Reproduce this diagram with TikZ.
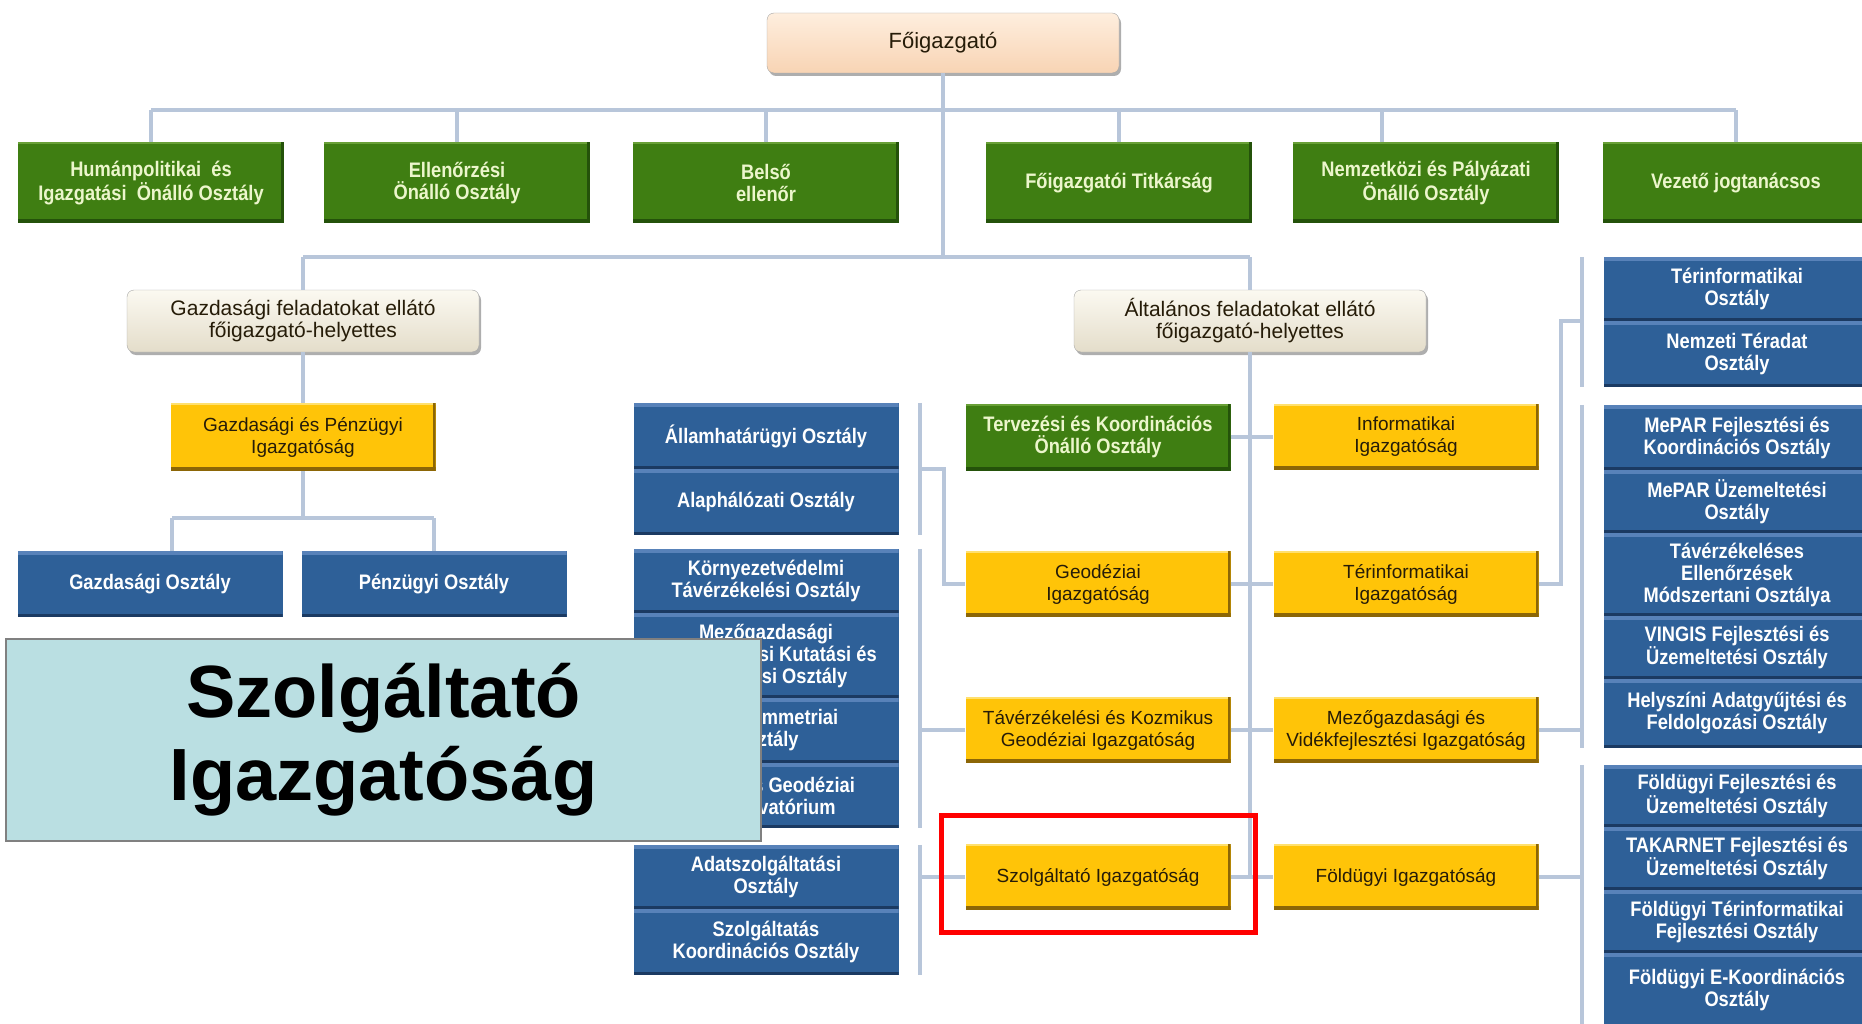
\documentclass[tikz,border=0pt]{standalone}
\usepackage{fontspec}
\setmainfont{Liberation Sans}
\newfontfamily\NarrowSans[FakeStretch=0.87]{Liberation Sans}
\usepackage{tikz}
\usetikzlibrary{shadows}
\usepackage{xcolor}
\definecolor{ColBlue}{RGB}{46,96,152}
\definecolor{ColBlueHi}{RGB}{88,130,185}
\definecolor{ColBlueLo}{RGB}{27,58,98}
\definecolor{ColGreen}{RGB}{63,126,18}
\definecolor{ColGreenHi}{RGB}{105,160,55}
\definecolor{ColGreenLo}{RGB}{36,82,10}
\definecolor{ColGreenText}{RGB}{236,246,204}
\definecolor{ColYellow}{RGB}{255,196,8}
\definecolor{ColYellowHi}{RGB}{255,224,110}
\definecolor{ColYellowLo}{RGB}{140,102,6}
\definecolor{ColText}{RGB}{38,28,8}
\definecolor{ColBeigeHi}{RGB}{251,249,241}
\definecolor{ColBeige}{RGB}{228,221,202}
\definecolor{ColPeachHi}{RGB}{254,238,222}
\definecolor{ColPeach}{RGB}{248,212,180}
\definecolor{ColLine}{RGB}{184,198,218}
\definecolor{ColTitle}{RGB}{186,223,226}
\tikzstyle{BoxBlue}=[rectangle,fill=ColBlue,text=white,minimum width=265,minimum height=66,inner sep=2pt,
align=center,font=\NarrowSans\bfseries\fontsize{21}{22}\selectfont,
path picture={\fill[ColBlueHi](path picture bounding box.north west)rectangle([yshift=-4pt]path picture bounding box.north east);
\fill[ColBlueLo](path picture bounding box.south west)rectangle([yshift=3pt]path picture bounding box.south east);}]
\tikzstyle{BoxGreen}=[rectangle,fill=ColGreen,text=ColGreenText,minimum width=266,minimum height=81,inner sep=2pt,
align=center,font=\NarrowSans\bfseries\fontsize{21}{22}\selectfont,
path picture={\fill[ColGreenHi](path picture bounding box.north west)rectangle([yshift=-2pt]path picture bounding box.north east);
\fill[ColGreenLo](path picture bounding box.south west)rectangle([yshift=4pt]path picture bounding box.south east);
\fill[ColGreenLo](path picture bounding box.north east)rectangle([xshift=-3pt]path picture bounding box.south east);}]
\tikzstyle{BoxYellow}=[rectangle,fill=ColYellow,text=ColText,minimum width=265,minimum height=66,inner sep=2pt,
align=center,font=\fontsize{19}{22}\selectfont,
path picture={\fill[ColYellowHi](path picture bounding box.north west)rectangle([yshift=-2pt]path picture bounding box.north east);
\fill[ColYellowLo](path picture bounding box.south west)rectangle([yshift=4pt]path picture bounding box.south east);
\fill[ColYellowLo](path picture bounding box.north east)rectangle([xshift=-3pt]path picture bounding box.south east);}]
\tikzstyle{BoxDeputy}=[rectangle,rounded corners=7pt,top color=ColBeigeHi,bottom color=ColBeige,draw=black!35,
minimum width=352,minimum height=62,align=center,text=ColText,font=\fontsize{21}{22}\selectfont,
drop shadow={shadow xshift=2pt,shadow yshift=-3pt,fill=black!70,opacity=.45}]
\tikzstyle{BoxChief}=[BoxDeputy,top color=ColPeachHi,bottom color=ColPeach,minimum width=352,minimum height=60,
font=\fontsize{22}{24}\selectfont]
\tikzstyle{BoxTitle}=[rectangle,fill=ColTitle,draw=black!50,line width=2pt,minimum width=755,minimum height=202,
align=center,font=\bfseries\fontsize{74}{83}\selectfont]
\tikzstyle{FrameRed}=[rectangle,draw=red,line width=5pt,minimum width=314,minimum height=117]
\tikzstyle{EdgeOrg}=[ColLine,line width=4pt]

\begin{document}
\begin{tikzpicture}[x=1pt,y=-1pt]
        \useasboundingbox(0,0)rectangle(1862,1024);
        \clip(0,0)rectangle(1862,1024);
        \coordinate(barA)at(0,110);
        \coordinate(barB)at(0,257);
        \coordinate(barC)at(0,518);
        \coordinate(brL)at(920,0);
        \coordinate(brR)at(1582,0);
        % top
        \node[BoxChief](fo)at(943,43){Főigazgató};
        \node[BoxGreen](human)at(151,183){Humánpolitikai\ \ és\\Igazgatási\ \ Önálló Osztály};
        \node[BoxGreen](ellen)at(457,183){Ellenőrzési\\Önálló Osztály};
        \node[BoxGreen](belso)at(766,183){Belső\\ellenőr};
        \node[BoxGreen](titk)at(1119,183){Főigazgatói Titkárság};
        \node[BoxGreen](nemz)at(1426,183){Nemzetközi és Pályázati\\Önálló Osztály};
        \node[BoxGreen](jog)at(1736,183){Vezető jogtanácsos};
        \node[BoxDeputy](gazh)at(303,321){Gazdasági feladatokat ellátó\\főigazgató-helyettes};
        \node[BoxDeputy](alth)at(1250,321){Általános feladatokat ellátó\\főigazgató-helyettes};
        % gazdasagi ag
        \node[BoxYellow,minimum height=68](gpig)at(303,437){Gazdasági és Pénzügyi\\Igazgatóság};
        \node[BoxBlue](gosz)at(150,584){Gazdasági Osztály};
        \node[BoxBlue](posz)at(434,584){Pénzügyi Osztály};
        % kek oszlop kozepen
        \node[BoxBlue](allam)at(766,436){Államhatárügyi Osztály};
        \node[BoxBlue](alap)at(766,502){Alaphálózati Osztály};
        \node[BoxBlue,minimum height=64](korny)at(766,581){Környezetvédelmi\\Távérzékelési Osztály};
        \node[BoxBlue,minimum height=85](mezo)at(766,655.5){Mezőgazdasági\\Távérzékelési Kutatási és\\Fejlesztési Osztály};
        \node[BoxBlue,minimum height=65](foto)at(766,730.5){Fotogrammetriai\\Osztály};
        \node[BoxBlue,minimum height=65](kgo)at(766,795.5){Kozmikus Geodéziai\\Obszervatórium};
        \node[BoxBlue,minimum height=64](adat)at(766,877){Adatszolgáltatási\\Osztály};
        \node[BoxBlue,minimum height=66](szkoo)at(766,942){Szolgáltatás\\Koordinációs Osztály};
        % igazgatosagok
        \node[BoxGreen,minimum width=265,minimum height=67](terv)at(1098,437){Tervezési és Koordinációs\\Önálló Osztály};
        \node[BoxYellow](info)at(1406,437){Informatikai\\Igazgatóság};
        \node[BoxYellow](geod)at(1098,584){Geodéziai\\Igazgatóság};
        \node[BoxYellow](terig)at(1406,584){Térinformatikai\\Igazgatóság};
        \node[BoxYellow](tavig)at(1098,730){Távérzékelési és Kozmikus\\Geodéziai Igazgatóság};
        \node[BoxYellow](mezig)at(1406,730){Mezőgazdasági és\\Vidékfejlesztési Igazgatóság};
        \node[BoxYellow](szolg)at(1098,877){Szolgáltató Igazgatóság};
        \node[BoxYellow](foldig)at(1406,877){Földügyi Igazgatóság};
        % kek oszlop jobbra
        \node[BoxBlue,minimum width=266,minimum height=64](tero)at(1737,289){Térinformatikai\\Osztály};
        \node[BoxBlue,minimum width=266](nter)at(1737,354){Nemzeti Téradat\\Osztály};
        \node[BoxBlue,minimum width=266,minimum height=65](mepf)at(1737,437.5){MePAR Fejlesztési és\\Koordinációs Osztály};
        \node[BoxBlue,minimum width=266,minimum height=63](mepu)at(1737,501.5){MePAR Üzemeltetési\\Osztály};
        \node[BoxBlue,minimum width=266,minimum height=83](tave)at(1737,574.5){Távérzékeléses\\Ellenőrzések\\Módszertani Osztálya};
        \node[BoxBlue,minimum width=266,minimum height=63](ving)at(1737,647.5){VINGIS Fejlesztési és\\Üzemeltetési Osztály};
        \node[BoxBlue,minimum width=266,minimum height=69](hely)at(1737,713.5){Helyszíni Adatgyűjtési és\\Feldolgozási Osztály};
        \node[BoxBlue,minimum width=266,minimum height=62](fofe)at(1737,796){Földügyi Fejlesztési és\\Üzemeltetési Osztály};
        \node[BoxBlue,minimum width=266,minimum height=63](taka)at(1737,858.5){TAKARNET Fejlesztési és\\Üzemeltetési Osztály};
        \node[BoxBlue,minimum width=266,minimum height=63](fote)at(1737,921.5){Földügyi Térinformatikai\\Fejlesztési Osztály};
        \node[BoxBlue,minimum width=266,minimum height=74](foek)at(1737,990){Földügyi E-Koordinációs\\Osztály};
        % vonalak
        \draw[EdgeOrg](fo.south)--(fo.south|-barB);
        \draw[EdgeOrg](human.north|-barA)--(jog.north|-barA);
        \draw[EdgeOrg](human.north)--(human.north|-barA);
        \draw[EdgeOrg](ellen.north)--(ellen.north|-barA);
        \draw[EdgeOrg](belso.north)--(belso.north|-barA);
        \draw[EdgeOrg](titk.north)--(titk.north|-barA);
        \draw[EdgeOrg]([xshift=-44pt]nemz.north)--([xshift=-44pt]nemz.north|-barA);
        \draw[EdgeOrg](jog.north)--(jog.north|-barA);
        \draw[EdgeOrg](gazh.north|-barB)--(alth.north|-barB);
        \draw[EdgeOrg](gazh.north)--(gazh.north|-barB);
        \draw[EdgeOrg](alth.north)--(alth.north|-barB);
        \draw[EdgeOrg](gazh.south)--(gpig.north);
        \draw[EdgeOrg](gpig.south)--(gpig.south|-barC);
        \draw[EdgeOrg]([xshift=22pt]gosz.north|-barC)--(posz.north|-barC);
        \draw[EdgeOrg]([xshift=22pt]gosz.north)--([xshift=22pt]gosz.north|-barC);
        \draw[EdgeOrg](posz.north)--(posz.north|-barC);
        \draw[EdgeOrg](alth.south)--(alth.south|-szolg);
        \draw[EdgeOrg](terv.east)--(info.west);
        \draw[EdgeOrg](geod.east)--(terig.west);
        \draw[EdgeOrg](tavig.east)--(mezig.west);
        \draw[EdgeOrg](szolg.east)--(foldig.west);
        \draw[EdgeOrg](allam.north-|brL)--(alap.south-|brL);
        \draw[EdgeOrg](korny.north-|brL)--(kgo.south-|brL);
        \draw[EdgeOrg](adat.north-|brL)--(szkoo.south-|brL);
        \draw[EdgeOrg](allam.south-|brL)-|([xshift=-21pt]geod.west)--(geod.west);
        \draw[EdgeOrg](tavig.west)--(tavig.west-|brL);
        \draw[EdgeOrg](szolg.west)--(szolg.west-|brL);
        \draw[EdgeOrg](tero.north-|brR)--(nter.south-|brR);
        \draw[EdgeOrg](mepf.north-|brR)--(hely.south-|brR);
        \draw[EdgeOrg](fofe.north-|brR)--(foek.south-|brR);
        \draw[EdgeOrg](terig.east)--++(22,0)|-(tero.south-|brR);
        \draw[EdgeOrg](mezig.east)--(mezig.east-|brR);
        \draw[EdgeOrg](foldig.east)--(foldig.east-|brR);
        % kiemeles
        \node[BoxTitle](title)at(383.5,740){Szolgáltató\\Igazgatóság};
        \node[FrameRed](mark)at(1098,873.5){};
\end{tikzpicture}
\end{document}
